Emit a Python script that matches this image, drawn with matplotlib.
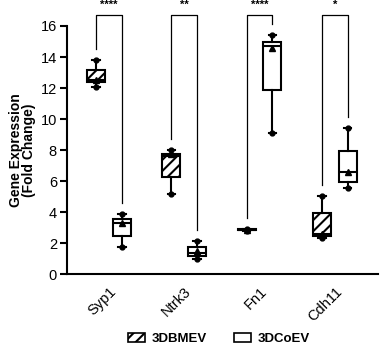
import matplotlib
matplotlib.use("Agg")
import matplotlib.pyplot as plt
from matplotlib.patches import Patch

plt.rcParams['font.family'] = ['Liberation Sans', 'DejaVu Sans']
plt.rcParams['hatch.linewidth'] = 1.5

genes = ["Syp1", "Ntrk3", "Fn1", "Cdh11"]
series = ["3DBMEV", "3DCoEV"]

# 3DBMEV stats
bmev_min = [12.1, 5.16, 2.80, 2.36]
bmev_q1 = [12.36, 6.26, 2.84, 2.49]
bmev_med = [12.5, 7.6, 2.87, 2.6]
bmev_q3 = [13.18, 7.74, 2.90, 3.94]
bmev_max = [13.8, 8.0, 2.95, 5.07]
bmev_mean = [12.5, 7.75, 2.87, 2.62]

# 3DCoEV stats
coev_min = [1.76, 0.97, 9.1, 5.57]
coev_q1 = [2.5, 1.2, 11.85, 5.95]
coev_med = [3.33, 1.39, 14.73, 6.58]
coev_q3 = [3.55, 1.78, 14.97, 7.97]
coev_max = [3.87, 2.15, 15.4, 9.42]
coev_mean = [3.3, 1.48, 14.6, 6.6]

stars = ["****", "**", "****", "*"]
yticks = [0, 2, 4, 6, 8, 10, 12, 14, 16]

fig = plt.figure(figsize=(3.8, 3.51), dpi=100)
ax = fig.add_axes([0.1755, 0.2185, 0.995 - 0.1755, 0.926 - 0.2185])

off = 0.171
width = 0.24
lw = 1.5

def stats(mins, q1, med, q3, mx, mean):
    return [dict(whislo=a, q1=b, med=c, q3=d, whishi=e, mean=f, fliers=[])
            for a, b, c, d, e, f in zip(mins, q1, med, q3, mx, mean)]

groups = list(range(1, len(genes) + 1))
for st, sign, hatch in [
    (stats(bmev_min, bmev_q1, bmev_med, bmev_q3, bmev_max, bmev_mean), -1, '///'),
    (stats(coev_min, coev_q1, coev_med, coev_q3, coev_max, coev_mean), 1, None),
]:
    pos = [g + sign * off for g in groups]
    bp = ax.bxp(st, positions=pos, widths=width, patch_artist=True,
                showmeans=True, showfliers=False,
                boxprops=dict(facecolor='white', edgecolor='black', linewidth=lw, hatch=hatch),
                medianprops=dict(color='black', linewidth=lw),
                whiskerprops=dict(color='black', linewidth=lw),
                capprops=dict(color='black', linewidth=lw),
                capwidths=0.1,
                meanprops=dict(marker='^', markerfacecolor='black', markeredgecolor='black', markersize=4))
    for p, s in zip(pos, st):
        ax.plot([p, p], [s['whislo'], s['whishi']], linestyle='none', marker='o',
                color='black', markersize=3.5, zorder=5)

# significance brackets
top = 16.73
for g, s, bmx, cmx in zip(groups, stars, bmev_max, coev_max):
    x1, x2 = g - off, g + off
    ax.plot([x1, x1, x2, x2], [bmx + 0.7, top, top, cmx + 0.7], color='black',
            linewidth=0.9, clip_on=False, zorder=1)
    ax.text(g, 17.35, s, ha='center', va='center', fontsize=8, fontweight='bold')

ax.set_xlim(0.44, 4.575)
ax.set_ylim(0, 16)
ax.set_yticks(yticks)
ax.set_xticks(groups)
ax.set_xticklabels(genes, rotation=45, ha='right', rotation_mode='anchor', fontsize=10.5)
ax.tick_params(axis='x', length=0, pad=7)
ax.tick_params(axis='y', length=5, width=1.5, labelsize=10.5, pad=2)
for sp in ['top', 'right']:
    ax.spines[sp].set_visible(False)
for sp in ['left', 'bottom']:
    ax.spines[sp].set_linewidth(1.5)
ax.set_ylabel("Gene Expression\n(Fold Change)", fontsize=10, fontweight='bold', labelpad=3, linespacing=0.95)

handles = [Patch(facecolor='white', edgecolor='black', hatch='///', linewidth=1.2),
           Patch(facecolor='white', edgecolor='black', linewidth=1.2)]
fig.legend(handles, series, loc='center', bbox_to_anchor=(0.576, 0.034), ncol=2,
           frameon=False, prop=dict(weight='bold', size=9.5), handlelength=1.3,
           handleheight=0.7, columnspacing=2.0, handletextpad=0.5)

fig.savefig("out.png", dpi=100)
